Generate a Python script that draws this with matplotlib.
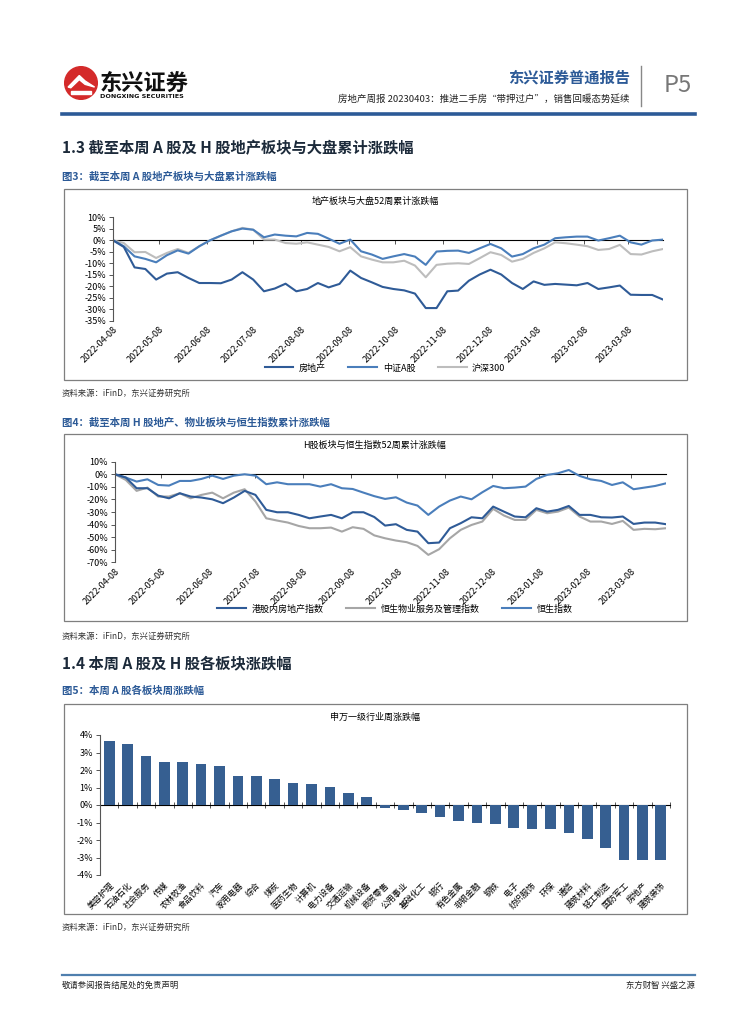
import matplotlib
matplotlib.use("Agg")
import matplotlib.pyplot as plt
import pandas as pd
from matplotlib.patches import Rectangle, Circle, Polygon

plt.rcParams['font.family'] = ['Noto Sans CJK SC', 'DejaVu Sans']
plt.rcParams['axes.unicode_minus'] = False

W, H = 755, 1024

# ---- data: weekly cumulative change (%), 2022-04-08 .. 2023-03-31
dates = pd.date_range("2022-04-08", periods=52, freq="7D")
month_ticks = ["2022-04-08", "2022-05-08", "2022-06-08", "2022-07-08", "2022-08-08", "2022-09-08",
               "2022-10-08", "2022-11-08", "2022-12-08", "2023-01-08", "2023-02-08", "2023-03-08"]

fdc = [0, -2.9, -11.8, -12.5, -17.1, -14.5, -13.9, -16.4, -18.6, -18.6, -18.7, -17.1, -13.9,
       -17.1, -22.2, -21.0, -18.9, -22.2, -21.2, -18.6, -20.5, -19.0, -13.2, -16.4, -18.3, -20.3,
       -21.2, -21.8, -23.2, -29.5, -29.5, -22.2, -21.9, -17.6, -14.9, -12.8, -14.9, -18.6, -21.2,
       -17.9, -19.4, -19.0, -19.3, -19.6, -18.6, -21.2, -20.5, -19.7, -23.7, -23.8, -23.8, -25.8]
zzag = [0, -2.6, -7.0, -8.1, -9.6, -6.5, -4.4, -5.8, -2.6, 0, 2.0, 3.9, 5.1,
        4.6, 1.3, 2.5, 2.0, 1.7, 3.2, 2.8, 0.7, -1.5, 0.3, -4.8, -6.2, -8.1,
        -7.0, -6.0, -7.1, -10.7, -4.9, -4.6, -4.5, -5.5, -3.5, -1.6, -3.5, -7.1, -6.0,
        -3.5, -1.9, 0.9, 1.3, 1.6, 1.6, -0.1, 0.9, 2.0, -0.9, -1.9, -0.1, 0.3]
hs300 = [0, -1.2, -5.2, -5.1, -7.7, -5.5, -3.8, -5.5, -2.6, 0, 2.0, 3.9, 5.4,
         4.6, 0.3, 0.3, -1.2, -1.5, -0.9, -1.9, -2.9, -4.8, -3.0, -7.0, -8.4, -9.6,
         -9.6, -8.9, -11.0, -16.1, -10.7, -10.2, -10.0, -10.3, -7.8, -5.2, -6.4, -9.3, -8.1,
         -5.5, -3.5, -0.9, -1.3, -1.9, -2.6, -4.2, -3.8, -2.0, -6.0, -6.2, -4.8, -3.8]

nfdc = [0, -2.6, -11.1, -11.1, -17.0, -19.1, -15.1, -17.7, -18.5, -19.9, -23.0, -18.5, -13.2,
        -16.4, -28.3, -30.2, -30.2, -32.3, -35.0, -33.6, -32.3, -35.0, -30.2, -30.2, -34.0, -40.8,
        -39.7, -44.2, -45.6, -54.8, -54.3, -42.9, -38.9, -34.2, -35.0, -25.7, -29.7, -33.6, -34.2,
        -27.0, -29.7, -28.3, -25.2, -32.3, -32.3, -34.2, -34.4, -33.6, -39.5, -38.4, -38.4, -39.7]
wyfw = [0, -4.5, -13.2, -10.6, -17.7, -17.7, -15.1, -19.1, -16.4, -14.6, -19.1, -14.6, -11.9,
        -21.7, -35.0, -36.8, -38.4, -41.1, -42.9, -42.9, -42.4, -45.6, -42.1, -43.4, -48.6, -50.9,
        -52.7, -54.0, -57.0, -64.1, -59.6, -50.9, -44.2, -40.3, -37.6, -27.5, -32.8, -36.3, -36.3,
        -28.3, -31.0, -29.7, -26.5, -33.6, -37.6, -37.6, -39.5, -37.1, -44.2, -43.4, -43.7, -42.9]
hsi = [0, -2.6, -5.8, -4.0, -8.5, -9.0, -5.3, -5.3, -3.7, -1.1, -3.7, -1.1, 0,
       -1.1, -7.9, -6.4, -7.9, -7.9, -7.9, -9.8, -7.9, -11.1, -11.7, -14.6, -17.4, -19.6,
       -18.3, -22.5, -24.9, -32.3, -25.7, -20.9, -17.7, -19.9, -14.3, -9.3, -11.1, -10.6, -9.8,
       -3.7, -0.5, 0.8, 3.4, -1.3, -4.0, -5.3, -8.5, -6.4, -11.9, -10.6, -9.3, -7.2]

industries = ["美容护理", "石油石化", "社会服务", "传媒", "农林牧渔", "食品饮料", "汽车", "家用电器",
              "综合", "煤炭", "医药生物", "计算机", "电力设备", "交通运输", "机械设备", "商贸零售",
              "公用事业", "基础化工", "银行", "有色金属", "非银金融", "钢铁", "电子", "纺织服饰",
              "环保", "通信", "建筑材料", "轻工制造", "国防军工", "房地产", "建筑装饰"]
weekly_chg = [3.68, 3.50, 2.80, 2.46, 2.46, 2.36, 2.23, 1.68, 1.66, 1.49, 1.26, 1.20, 1.03, 0.69,
              0.46, -0.15, -0.29, -0.48, -0.70, -0.91, -1.05, -1.09, -1.33, -1.39, -1.39, -1.62,
              -1.96, -2.47, -3.14, -3.14, -3.14]

BLUE_HDR = '#2c5a97'
DARK_LINE = '#2f5b97'
MID_LINE = '#4a7ebb'
GRAY_LINE = '#bdbdbd'
BAR = '#365f91'


def rect(x0, y0, x1, y1):
    return [x0 / W, 1 - y1 / H, (x1 - x0) / W, (y1 - y0) / H]


def fx(x):
    return x / W


def fy(y):
    return 1 - y / H


fig = plt.figure(figsize=(W / 100, H / 100), dpi=100)

# ---- header
logo = fig.add_axes(rect(64, 66, 98, 100))
logo.set_xlim(0, 1)
logo.set_ylim(0, 1)
logo.set_aspect('equal')
logo.axis('off')
logo.add_patch(Circle((0.5, 0.5), 0.48, color='#d42a2a'))
logo.add_patch(Polygon([(0.12, 0.38), (0.45, 0.72), (0.62, 0.56), (0.9, 0.38), (0.62, 0.46),
                        (0.45, 0.6), (0.2, 0.36)], closed=True, color='white'))
logo.add_patch(Rectangle((0.2, 0.18), 0.6, 0.08, color='white'))
fig.text(fx(100), fy(83), "东兴证券", fontsize=16, fontweight='bold', color='#111111', va='center')
fig.text(fx(100), fy(97), "DONGXING SECURITIES", fontsize=4.6, fontweight='bold', color='#111111',
         va='center', family='DejaVu Sans')
fig.text(fx(630), fy(78), "东兴证券普通报告", fontsize=11, fontweight='bold', color=BLUE_HDR,
         ha='right', va='center')
fig.text(fx(630), fy(99), "房地产周报 20230403：推进二手房“带押过户”，销售回暖态势延续",
         fontsize=6.8, color='#222222', ha='right', va='center', style='italic')
fig.add_artist(plt.Line2D([fx(641), fx(641)], [fy(66), fy(106)], color='#888888', lw=1))
fig.text(fx(692), fy(85), "P5", fontsize=17, color='#777777', ha='right', va='center')
fig.add_artist(plt.Line2D([fx(62), fx(695)], [fy(114), fy(114)], color=BLUE_HDR, lw=2.6))

# ---- section headings and captions
fig.text(fx(62), fy(148), "1.3 截至本周 A 股及 H 股地产板块与大盘累计涨跌幅", fontsize=11,
         fontweight='bold', color='#1c2a3a', va='center')
fig.text(fx(62), fy(177), "图3：截至本周 A 股地产板块与大盘累计涨跌幅", fontsize=7.5,
         fontweight='bold', color=BLUE_HDR, va='center')
fig.text(fx(62), fy(393), "资料来源：iFinD，东兴证券研究所", fontsize=6, style='italic',
         color='#333333', va='center')
fig.text(fx(62), fy(422), "图4：截至本周 H 股地产、物业板块与恒生指数累计涨跌幅", fontsize=7.5,
         fontweight='bold', color=BLUE_HDR, va='center')
fig.text(fx(62), fy(636), "资料来源：iFinD，东兴证券研究所", fontsize=6, style='italic',
         color='#333333', va='center')
fig.text(fx(62), fy(663), "1.4 本周 A 股及 H 股各板块涨跌幅", fontsize=11,
         fontweight='bold', color='#1c2a3a', va='center')
fig.text(fx(62), fy(691), "图5：本周 A 股各板块周涨跌幅", fontsize=7.5,
         fontweight='bold', color=BLUE_HDR, va='center')
fig.text(fx(62), fy(927), "资料来源：iFinD，东兴证券研究所", fontsize=6, style='italic',
         color='#333333', va='center')

# ---- footer
fig.add_artist(plt.Line2D([fx(62), fx(695)], [fy(975), fy(975)], color='#4f7fae', lw=1.6))
fig.text(fx(62), fy(985), "敬请参阅报告结尾处的免责声明", fontsize=6, color='#222222', va='center')
fig.text(fx(695), fy(985), "东方财智 兴盛之源", fontsize=6, color='#222222', va='center', ha='right')

# chart frames
for y0, y1 in [(189, 380), (434, 621), (704, 914)]:
    fig.add_artist(Rectangle((fx(64), fy(y1)), fx(687) - fx(64), fy(y0) - fy(y1),
                             transform=fig.transFigure, fill=False, edgecolor='#7f7f7f', lw=0.9))


def style_line_axes(ax, ymin, ymax, step):
    ax.set_xlim(dates[0], dates[-1])
    ax.set_ylim(ymin, ymax)
    yt = list(range(ymax, ymin - 1, -step))
    ax.set_yticks(yt)
    ax.set_yticklabels([f"{v}%" for v in yt])
    ax.set_xticks(pd.to_datetime(month_ticks))
    ax.set_xticklabels(month_ticks, rotation=45, ha='right', rotation_mode='anchor')
    for s in ['top', 'right', 'bottom']:
        ax.spines[s].set_visible(False)
    ax.spines['left'].set_color('#555555')
    ax.spines['left'].set_linewidth(0.8)
    ax.tick_params(axis='y', labelsize=6.5, length=3, width=0.7, color='#555555', pad=2)
    ax.tick_params(axis='x', labelsize=6.5, length=0, pad=3)
    zero = ax.secondary_xaxis((0 - ymin) / (ymax - ymin))
    zero.set_xticks(pd.to_datetime(month_ticks))
    zero.set_xticklabels([])
    zero.spines['bottom'].set_color('#888888')
    zero.spines['bottom'].set_linewidth(0.8)
    zero.tick_params(direction='in', length=3, width=0.7, color='#555555')
    ax.patch.set_alpha(0)


# ---- chart 1
ax1 = fig.add_axes(rect(113, 217.3, 663, 320.7))
ax1.plot(dates, hs300, color=GRAY_LINE, lw=1.5, label='沪深300')
ax1.plot(dates, zzag, color=MID_LINE, lw=1.5, label='中证A股')
ax1.plot(dates, fdc, color=DARK_LINE, lw=1.5, label='房地产')
style_line_axes(ax1, -35, 10, 5)
fig.text(fx(375), fy(201), "地产板块与大盘52周累计涨跌幅", fontsize=6.5, ha='center', va='center')
h, l = ax1.get_legend_handles_labels()
ax1.legend(h[::-1], l[::-1], loc='center', bbox_to_anchor=(fx(385), fy(368)),
           bbox_transform=fig.transFigure, ncol=3, frameon=False, fontsize=6.5,
           handlelength=3.2, columnspacing=2.5, handletextpad=0.6)

# ---- chart 2
ax2 = fig.add_axes(rect(115, 461.7, 666, 562.3))
ax2.plot(dates, wyfw, color='#a6a6a6', lw=1.5, label='恒生物业服务及管理指数')
ax2.plot(dates, hsi, color=MID_LINE, lw=1.5, label='恒生指数')
ax2.plot(dates, nfdc, color=DARK_LINE, lw=1.5, label='港股内房地产指数')
style_line_axes(ax2, -70, 10, 10)
fig.text(fx(375), fy(445), "H股板块与恒生指数52周累计涨跌幅", fontsize=6.5, ha='center', va='center')
h, l = ax2.get_legend_handles_labels()
order = [2, 0, 1]
ax2.legend([h[i] for i in order], [l[i] for i in order], loc='center',
           bbox_to_anchor=(fx(395), fy(609)), bbox_transform=fig.transFigure, ncol=3,
           frameon=False, fontsize=6.5, handlelength=3.2, columnspacing=2.5, handletextpad=0.6)

# ---- chart 3
ax3 = fig.add_axes(rect(100, 735, 670, 875))
pos = list(range(len(industries)))
ax3.bar(pos, weekly_chg, width=0.58, color=BAR, zorder=2)
ax3.set_xlim(-0.5, len(industries) - 0.5)
ax3.set_ylim(-4, 4)
yt = list(range(4, -5, -1))
ax3.set_yticks(yt)
ax3.set_yticklabels([f"{v}%" for v in yt])
ax3.set_xticks(pos)
ax3.set_xticklabels(industries, rotation=45, ha='right', rotation_mode='anchor')
for s in ['top', 'right', 'bottom']:
    ax3.spines[s].set_visible(False)
ax3.spines['left'].set_color('#555555')
ax3.spines['left'].set_linewidth(0.8)
ax3.tick_params(axis='y', labelsize=6.5, length=3, width=0.7, color='#555555', pad=2)
ax3.tick_params(axis='x', labelsize=6, length=0, pad=4)
zero3 = ax3.secondary_xaxis(0.5)
zero3.set_xticks([p - 0.5 for p in pos] + [len(industries) - 0.5])
zero3.set_xticklabels([])
zero3.spines['bottom'].set_color('#555555')
zero3.spines['bottom'].set_linewidth(0.8)
zero3.tick_params(direction='inout', length=4, width=0.7, color='#555555')
fig.text(fx(375), fy(717), "申万一级行业周涨跌幅", fontsize=6.5, ha='center', va='center')

fig.savefig("out.png", dpi=100)
